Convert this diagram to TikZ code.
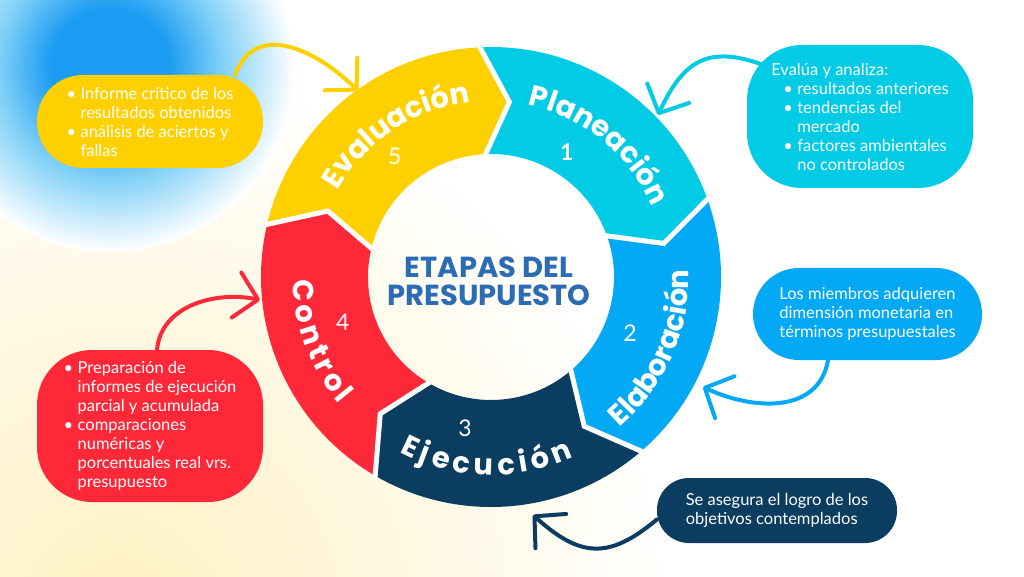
\documentclass[tikz,border=0pt]{standalone}
\usepackage{fontspec}
\setmainfont{Lato}
\newfontfamily\headfont{Poppins}
\usetikzlibrary{arrows.meta,decorations.text}

\definecolor{evalyellow}{HTML}{FFD000}
\definecolor{plancyan}{HTML}{02CBE5}
\definecolor{elabblue}{HTML}{03A9F4}
\definecolor{ejecnavy}{HTML}{0A3D60}
\definecolor{ctrlred}{HTML}{FE2839}
\definecolor{titleblue}{HTML}{2C6CB3}
\definecolor{blobblue}{HTML}{1C9CF2}
\definecolor{blobhalo}{HTML}{7FD0F7}
\definecolor{cream}{HTML}{FFF1C2}

\pgfdeclareradialshading{blueblob}{\pgfpoint{0bp}{0bp}}{color(0bp)=(blobblue); color(8bp)=(blobblue); color(15bp)=(blobhalo); color(25bp)=(white); color(50bp)=(white)}
\pgfdeclareradialshading{creamblob}{\pgfpoint{0bp}{0bp}}{color(0bp)=(cream); color(25bp)=(white); color(50bp)=(white)}

\newcommand{\outr}{230}
\newcommand{\midr}{176}
\newcommand{\inr}{123}
\newcommand{\bulit}{\makebox[14pt][l]{•}}
\newcommand{\indt}{\hspace*{14pt}}
\newcommand{\ringpart}[3]{\fill[#1] (#2:\outr) arc[start angle=#2, end angle=#3, radius=\outr] -- (#3-9:\midr) -- (#3:\inr) arc[start angle=#3, end angle=#2, radius=\inr] -- (#2-9:\midr) -- cycle;}
\newcommand{\segfont}{\headfont\bfseries\fontsize{29}{29}\selectfont}

\begin{document}
\begin{tikzpicture}[x=1pt, y=1pt,
        bubble/.style = {text=white, inner sep=0pt, align=left, font=\fontsize{16.5}{19}\selectfont},
        pointer/.style = {line width=4pt, line cap=round, -{Straight Barb[length=22pt, width=46pt, round]}},
        stagenum/.style = {text=white, font=\fontsize{23}{23}\selectfont},
        ringtext/.style = {decorate, decoration={text along path, text align=fit to path, text color=white}}]
        \useasboundingbox (0,0) rectangle (1024,576);
        \fill[white] (0,0) rectangle (1024,576);
        \shade[shading=creamblob] (120,-40) circle (560);
        \shade[shading=blueblob] (110,509) circle (185);

        \begin{scope}[shift={(491,299)}]
        \ringpart{plancyan}{93}{20}
        \ringpart{elabblue}{20}{-49}
        \ringpart{ejecnavy}{-49}{-120}
        \ringpart{ctrlred}{240}{167}
        \ringpart{evalyellow}{167}{93}
        \foreach \b in {93,20,-49,-120,167}
            \draw[white, line width=5pt] (\b:232) -- (\b-9:\midr) -- (\b:121);

        \path[ringtext, decoration={text={|\segfont|Planeación}}] (78:176) arc[start angle=78, end angle=26, radius=176];
        \path[ringtext, decoration={text={|\segfont|Elaboración}}] (-49.5:198) arc[start angle=-49.5, end angle=1.5, radius=198];
        \path[ringtext, decoration={text={|\segfont|Ejecución}}] (-117.6:198) arc[start angle=-117.6, end angle=-65.4, radius=198];
        \path[ringtext, decoration={text={|\segfont|Control}}] (181:198) arc[start angle=181, end angle=220, radius=198];
        \path[ringtext, decoration={text={|\segfont|Evaluación}}] (150.5:176) arc[start angle=150.5, end angle=97, radius=176];

        \node[stagenum] (1) at (58.7:146)  {\bfseries 1};
        \node[stagenum] (2) at (-22:150)   {2};
        \node[stagenum] (3) at (-99.8:153) {3};
        \node[stagenum] (4) at (196.9:155) {4};
        \node[stagenum] (5) at (128.7:154) {5};

        \node[text=titleblue, align=center, font=\headfont\bfseries\fontsize{29}{28}\selectfont] (c) at (-2,-4) {ETAPAS DEL\\PRESUPUESTO};
        \end{scope}

        \node[bubble, fill=evalyellow, minimum width=226pt, minimum height=93pt, rounded corners=46pt] (b5) at (150,454.5)
            {\bulit Informe crítico de los\\\indt resultados obtenidos\\\bulit análisis de aciertos y\\\indt fallas};
        \node[bubble, fill=plancyan, minimum width=226pt, minimum height=143pt, rounded corners=55pt] (b1) at (860,459.5)
            {Evalúa y analiza:\\\hspace*{12pt}\bulit resultados anteriores\\\hspace*{12pt}\bulit tendencias del\\\hspace*{26pt}mercado\\\hspace*{12pt}\bulit factores ambientales\\\hspace*{26pt}no controlados};
        \node[bubble, fill=elabblue, minimum width=229pt, minimum height=92pt, rounded corners=46pt] (b2) at (867.5,262)
            {Los miembros adquieren\\dimensión monetaria en\\términos presupuestales};
        \node[bubble, fill=ejecnavy, minimum width=240pt, minimum height=65pt, rounded corners=32pt] (b3) at (777,65.5)
            {Se asegura el logro de los\\objetivos contemplados};
        \node[bubble, fill=ctrlred, minimum width=226pt, minimum height=152pt, rounded corners=55pt] (b4) at (150,150)
            {\bulit Preparación de\\\indt informes de ejecución\\\indt parcial y acumulada\\\bulit comparaciones\\\indt numéricas y\\\indt porcentuales real vrs.\\\indt presupuesto};

        \coordinate (t5) at (358,485);
        \coordinate (t1) at (658,461);
        \coordinate (t2) at (703,189);
        \coordinate (t3) at (533,61);
        \coordinate (t4) at (260,276);

        \draw[pointer, evalyellow] ([xshift=-28pt]b5.north east) to[out=70, in=135, looseness=1.2] (t5);
        \draw[pointer, plancyan] ([shift={(16pt,-20pt)}]b1.north west) to[out=160, in=65, looseness=1.3] (t1);
        \draw[pointer, elabblue] ([xshift=-39.5pt]b2.south) to[out=-100, in=-25, looseness=1.1] (t2);
        \draw[pointer, ejecnavy] ([yshift=-9pt]b3.west) to[out=220, in=-42, looseness=1.3] (t3);
        \draw[pointer, ctrlred] ([xshift=7pt]b4.north) to[out=85, in=168] (t4);
    \end{tikzpicture}
\end{document}
